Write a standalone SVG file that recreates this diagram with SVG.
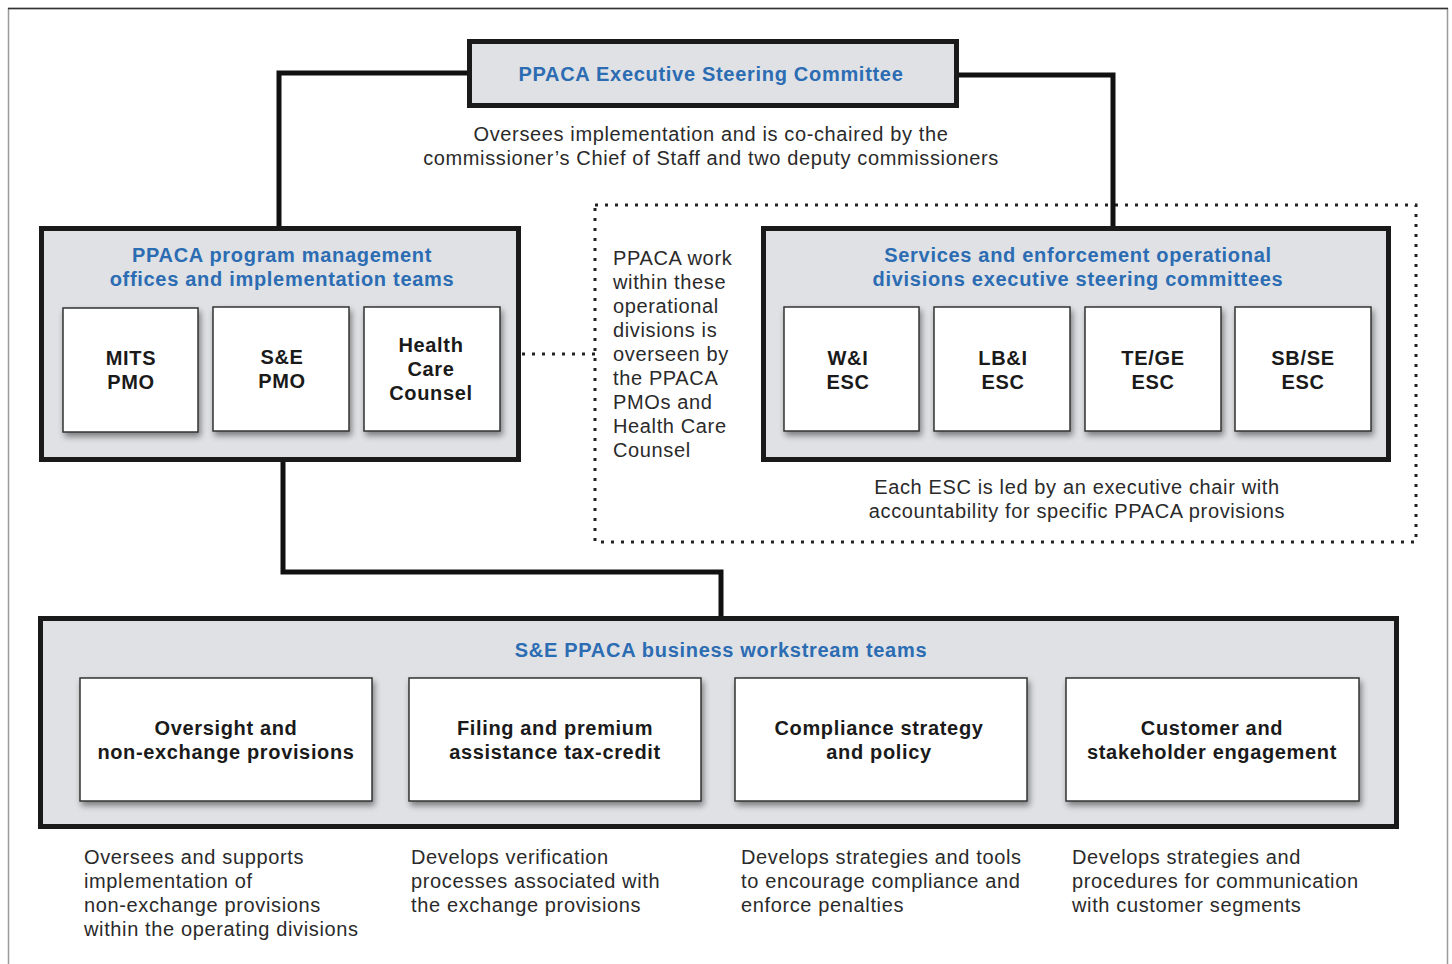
<svg xmlns="http://www.w3.org/2000/svg" width="1452" height="964" viewBox="0 0 1452 964">
  <style>
    .frame { fill: #dfe1e4; stroke: #1a1a1a; stroke-width: 5; }
    .card { fill: #ffffff; stroke: #333333; stroke-width: 1.5; filter: url(#shadow); }
    .wire { fill: none; stroke: #111111; stroke-width: 5; }
    .dots { fill: none; stroke: #222222; stroke-width: 3; stroke-dasharray: 3 7; }
    .title { font-family: "Liberation Sans", Arial, sans-serif; font-size: 20px; font-weight: bold; fill: #2b6cb3; text-anchor: middle; letter-spacing: 0.7px; }
    .label { font-family: "Liberation Sans", Arial, sans-serif; font-size: 20px; font-weight: bold; fill: #1a1a1a; text-anchor: middle; letter-spacing: 0.65px; }
    .note { font-family: "Liberation Sans", Arial, sans-serif; font-size: 20px; fill: #2a2a2a; letter-spacing: 0.63px; }
    .mid { text-anchor: middle; }
  </style>
  <defs>
    <filter id="shadow" x="-10%" y="-10%" width="125%" height="130%">
      <feGaussianBlur in="SourceAlpha" stdDeviation="3"/>
      <feOffset dx="2" dy="4" result="b"/>
      <feComponentTransfer><feFuncA type="linear" slope="0.45"/></feComponentTransfer>
      <feMerge><feMergeNode/><feMergeNode in="SourceGraphic"/></feMerge>
    </filter>
  </defs>

  <!-- page -->
  <rect x="0" y="0" width="1452" height="964" fill="#ffffff"/>
  <rect x="8.5" y="8.5" width="1439" height="970" fill="none" stroke="#9a9a9a" stroke-width="1.5"/>
  <line x1="8" y1="8.5" x2="1448" y2="8.5" stroke="#333" stroke-width="1.5"/>

  <!-- dotted oversight region -->
  <g id="oversight-region">
    <rect x="595" y="205" width="821" height="337" fill="#eceeef" class="dots"/>
    <text class="note" x="613" y="265">PPACA work</text>
    <text class="note" x="613" y="289">within these</text>
    <text class="note" x="613" y="313">operational</text>
    <text class="note" x="613" y="337">divisions is</text>
    <text class="note" x="613" y="361">overseen by</text>
    <text class="note" x="613" y="385">the PPACA</text>
    <text class="note" x="613" y="409">PMOs and</text>
    <text class="note" x="613" y="433">Health Care</text>
    <text class="note" x="613" y="457">Counsel</text>
    <text class="note mid" x="1077" y="494">Each ESC is led by an executive chair with</text>
    <text class="note mid" x="1077" y="518">accountability for specific PPACA provisions</text>
  </g>

  <!-- connectors -->
  <g id="connectors">
    <polyline class="wire" points="470,73 279,73 279,228"/>
    <polyline class="wire" points="956,75 1113,75 1113,228"/>
    <polyline class="wire" points="283,431 283,572 721,572 721,619"/>
    <line class="dots" x1="522" y1="354" x2="595" y2="354"/>
  </g>

  <!-- executive steering committee -->
  <g id="esc-top">
    <rect class="frame" x="469.5" y="41.5" width="487" height="64"/>
    <text class="title" x="711" y="81">PPACA Executive Steering Committee</text>
    <text class="note mid" x="711" y="141">Oversees implementation and is co-chaired by the</text>
    <text class="note mid" x="711" y="165">commissioner’s Chief of Staff and two deputy commissioners</text>
  </g>

  <!-- program management offices -->
  <g id="pmo">
    <rect class="frame" x="41.5" y="228.5" width="477" height="231"/>
    <text class="title" x="282" y="262">PPACA program management</text>
    <text class="title" x="282" y="286">offices and implementation teams</text>
  </g>
  <g id="mits-pmo">
    <rect class="card" x="63" y="308" width="135" height="124"/>
    <text class="label" x="131" y="365">MITS</text>
    <text class="label" x="131" y="389">PMO</text>
  </g>
  <g id="se-pmo">
    <rect class="card" x="213" y="307" width="136" height="124"/>
    <text class="label" x="282" y="364">S&amp;E</text>
    <text class="label" x="282" y="388">PMO</text>
  </g>
  <g id="health-care-counsel">
    <rect class="card" x="364" y="307" width="136" height="124"/>
    <text class="label" x="431" y="352">Health</text>
    <text class="label" x="431" y="376">Care</text>
    <text class="label" x="431" y="400">Counsel</text>
  </g>

  <!-- operational divisions ESCs -->
  <g id="se-divisions">
    <rect class="frame" x="763.5" y="228.5" width="625" height="231"/>
    <text class="title" x="1078" y="262">Services and enforcement operational</text>
    <text class="title" x="1078" y="286">divisions executive steering committees</text>
  </g>
  <g id="wi-esc">
    <rect class="card" x="784" y="307" width="135" height="124"/>
    <text class="label" x="848" y="365">W&amp;I</text>
    <text class="label" x="848" y="389">ESC</text>
  </g>
  <g id="lbi-esc">
    <rect class="card" x="934" y="307" width="136" height="124"/>
    <text class="label" x="1003" y="365">LB&amp;I</text>
    <text class="label" x="1003" y="389">ESC</text>
  </g>
  <g id="tege-esc">
    <rect class="card" x="1085" y="307" width="136" height="124"/>
    <text class="label" x="1153" y="365">TE/GE</text>
    <text class="label" x="1153" y="389">ESC</text>
  </g>
  <g id="sbse-esc">
    <rect class="card" x="1235" y="307" width="136" height="124"/>
    <text class="label" x="1303" y="365">SB/SE</text>
    <text class="label" x="1303" y="389">ESC</text>
  </g>

  <!-- business workstream teams -->
  <g id="workstreams">
    <rect class="frame" x="40.5" y="618.5" width="1356" height="208"/>
    <text class="title" x="721" y="657">S&amp;E PPACA business workstream teams</text>
  </g>
  <g id="oversight">
    <rect class="card" x="80" y="678" width="292" height="123"/>
    <text class="label" x="226" y="735">Oversight and</text>
    <text class="label" x="226" y="759">non-exchange provisions</text>
    <text class="note" x="84" y="864">Oversees and supports</text>
    <text class="note" x="84" y="888">implementation of</text>
    <text class="note" x="84" y="912">non-exchange provisions</text>
    <text class="note" x="84" y="936">within the operating divisions</text>
  </g>
  <g id="filing">
    <rect class="card" x="409" y="678" width="292" height="123"/>
    <text class="label" x="555" y="735">Filing and premium</text>
    <text class="label" x="555" y="759">assistance tax-credit</text>
    <text class="note" x="411" y="864">Develops verification</text>
    <text class="note" x="411" y="888">processes associated with</text>
    <text class="note" x="411" y="912">the exchange provisions</text>
  </g>
  <g id="compliance">
    <rect class="card" x="735" y="678" width="292" height="123"/>
    <text class="label" x="879" y="735">Compliance strategy</text>
    <text class="label" x="879" y="759">and policy</text>
    <text class="note" x="741" y="864">Develops strategies and tools</text>
    <text class="note" x="741" y="888">to encourage compliance and</text>
    <text class="note" x="741" y="912">enforce penalties</text>
  </g>
  <g id="customer">
    <rect class="card" x="1066" y="678" width="293" height="123"/>
    <text class="label" x="1212" y="735">Customer and</text>
    <text class="label" x="1212" y="759">stakeholder engagement</text>
    <text class="note" x="1072" y="864">Develops strategies and</text>
    <text class="note" x="1072" y="888">procedures for communication</text>
    <text class="note" x="1072" y="912">with customer segments</text>
  </g>
</svg>
